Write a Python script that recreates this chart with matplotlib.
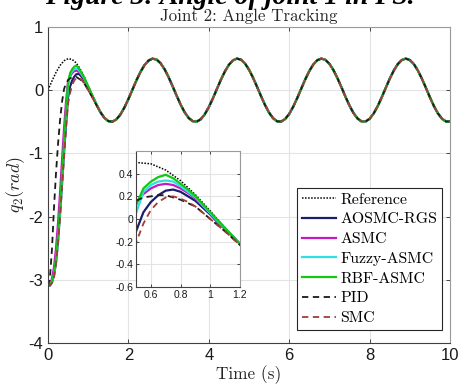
import numpy as np
import matplotlib
matplotlib.use("Agg")
import matplotlib.pyplot as plt

plt.rcParams['axes.unicode_minus'] = False
plt.rcParams['mathtext.fontset'] = 'cm'

# ---------------- data ----------------
t_ref = np.linspace(0, 10, 101)
reference = [0.000, 0.148, 0.282, 0.392, 0.466, 0.499, 0.487, 0.432, 0.338, 0.214,
             0.071, -0.079, -0.221, -0.344, -0.436, -0.489, -0.498, -0.463, -0.386, -0.275,
             -0.140, 0.008, 0.156, 0.289, 0.397, 0.469, 0.499, 0.485, 0.427, 0.332,
             0.206, 0.062, -0.087, -0.229, -0.350, -0.440, -0.490, -0.497, -0.460, -0.381,
             -0.268, -0.132, 0.017, 0.164, 0.296, 0.402, 0.472, 0.500, 0.483, 0.423,
             0.325, 0.198, 0.054, -0.095, -0.236, -0.356, -0.444, -0.492, -0.496, -0.456,
             -0.376, -0.261, -0.124, 0.025, 0.172, 0.303, 0.407, 0.475, 0.500, 0.481,
             0.418, 0.319, 0.191, 0.046, -0.104, -0.244, -0.362, -0.448, -0.494, -0.495,
             -0.453, -0.370, -0.254, -0.115, 0.034, 0.180, 0.309, 0.412, 0.477, 0.500,
             0.478, 0.414, 0.312, 0.183, 0.038, -0.112, -0.251, -0.368, -0.451, -0.495,
             -0.494]

t_tr = np.linspace(0, 1.2, 25)
aosmc = [-3.10, -3.09, -3.04, -2.93, -2.72, -2.38, -1.95, -1.47, -0.98, -0.52, -0.11, 0.06, 0.15,
         0.21, 0.25, 0.26, 0.24, 0.20, 0.16, 0.10, 0.04, -0.03, -0.09, -0.155, -0.22]
asmc = [-3.10, -3.07, -2.98, -2.80, -2.50, -2.10, -1.62, -1.10, -0.60, -0.17, 0.15, 0.22, 0.27,
        0.30, 0.31, 0.30, 0.27, 0.23, 0.18, 0.115, 0.05, -0.02, -0.085, -0.15, -0.22]
fuzzy = [-3.10, -3.09, -3.03, -2.92, -2.70, -2.36, -1.92, -1.42, -0.90, -0.40, 0.05, 0.24, 0.30,
         0.33, 0.34, 0.33, 0.29, 0.24, 0.19, 0.12, 0.05, -0.02, -0.085, -0.15, -0.22]
rbf = [-3.10, -3.08, -3.02, -2.90, -2.66, -2.30, -1.85, -1.35, -0.82, -0.32, 0.12, 0.27, 0.33,
       0.37, 0.39, 0.36, 0.31, 0.26, 0.20, 0.13, 0.06, -0.01, -0.08, -0.15, -0.22]
pid = [-3.10, -2.95, -2.50, -1.85, -1.30, -0.85, -0.47, -0.18, 0.02, 0.11, 0.16, 0.19, 0.20,
       0.21, 0.21, 0.19, 0.17, 0.14, 0.11, 0.055, 0.0, -0.055, -0.11, -0.17, -0.23]
smc = [-3.10, -3.09, -3.05, -2.95, -2.75, -2.42, -2.00, -1.52, -1.05, -0.60, -0.21, -0.04, 0.08,
       0.15, 0.19, 0.20, 0.18, 0.15, 0.11, 0.055, 0.0, -0.055, -0.11, -0.17, -0.23]

labels = ["Reference", "AOSMC-RGS", "ASMC", "Fuzzy-ASMC", "RBF-ASMC", "PID", "SMC"]
main_xticks = [0, 2, 4, 6, 8, 10]
main_yticks = [-4, -3, -2, -1, 0, 1]
inset_xticks = [0.6, 0.8, 1.0, 1.2]
inset_yticks = [-0.6, -0.4, -0.2, 0.0, 0.2, 0.4]

# ---------------- build series ----------------
t_ref = np.asarray(t_ref)
ref = np.asarray(reference)
tail = t_ref > 1.2 + 1e-9
t_full = np.concatenate([t_tr, t_ref[tail]])

def full(vals):
    return np.concatenate([np.asarray(vals), ref[tail]])

series = [
    (t_ref, ref, dict(color='black', ls=(0, (1, 1)), lw=1.1)),
    (t_full, full(aosmc), dict(color='#1c1c6e', ls='-', lw=1.6)),
    (t_full, full(asmc), dict(color='#c21bc2', ls='-', lw=1.6)),
    (t_full, full(fuzzy), dict(color='#2ee0e0', ls='-', lw=1.6)),
    (t_full, full(rbf), dict(color='#12c812', ls='-', lw=1.6)),
    (t_full, full(pid), dict(color='#1a1a1a', ls=(0, (3.5, 2.5)), lw=1.3)),
    (t_full, full(smc), dict(color='#a33a35', ls=(0, (3.5, 2.5)), lw=1.3)),
]

W, H = 459, 385
fig = plt.figure(figsize=(W / 100, H / 100), dpi=100)

def style_axes(ax, fs):
    ax.grid(True, color='#e3e3e3', lw=0.8)
    ax.set_axisbelow(True)
    for s in ['left', 'bottom']:
        ax.spines[s].set_color('#404040')
    for s in ['top', 'right']:
        ax.spines[s].set_color('#9a9a9a')
    for s in ax.spines.values():
        s.set_linewidth(0.8)
    ax.tick_params(direction='in', length=3, width=0.7, color='#404040',
                   labelsize=fs, labelcolor='#1a1a1a', top=True, right=True)
    for lab in ax.get_xticklabels() + ax.get_yticklabels():
        lab.set_family('Liberation Sans')

ax = fig.add_axes([48 / W, (H - 343) / H, 402 / W, 316 / H])
handles = []
for x, y, kw in series:
    h, = ax.plot(x, y, **kw)
    handles.append(h)
ax.set_xlim(0, 10)
ax.set_ylim(-4, 1)
ax.set_xticks(main_xticks)
ax.set_yticks(main_yticks)
ax.set_xticklabels([str(v) for v in main_xticks])
ax.set_yticklabels([str(v) for v in main_yticks])
style_axes(ax, 12)
ax.set_xlabel("Time (s)", family='cmr10', fontsize=12.4, color='#262626', labelpad=2)
ax.set_ylabel(r"$q_2(rad)$", fontsize=13, color='#262626', labelpad=1)
ax.set_title("Joint 2: Angle Tracking", family='cmr10', fontsize=12.2, color='#262626', pad=4.5)

leg = ax.legend(handles, labels, loc='lower right', bbox_to_anchor=(442 / W, (H - 330) / H),
                bbox_transform=fig.transFigure,
                prop={'family': 'cmr10', 'size': 11.4}, frameon=True, fancybox=False,
                edgecolor='#262626', framealpha=1, borderpad=0.3, labelspacing=0.36,
                handlelength=2.2, handletextpad=0.25, borderaxespad=0)
leg.get_frame().set_linewidth(0.8)

# inset
axi = fig.add_axes([136 / W, (H - 287) / H, 104 / W, 136 / H])
for x, y, kw in series:
    axi.plot(x, y, **kw)
axi.set_xlim(0.5, 1.2)
axi.set_ylim(-0.6, 0.6)
axi.set_xticks(inset_xticks)
axi.set_yticks(inset_yticks)
axi.set_xticklabels(['0.6', '0.8', '1', '1.2'])
axi.set_yticklabels(['-0.6', '-0.4', '-0.2', '0', '0.2', '0.4'])
style_axes(axi, 7.5)
axi.tick_params(pad=2, length=2)

fig.text(230 / W, 1 - 4 / H, "Figure 3: Angle of joint 1 in PS.", ha='center', va='baseline',
         family='Liberation Serif', fontweight='bold', fontstyle='italic', fontsize=20)

fig.savefig("out.png", dpi=100)
